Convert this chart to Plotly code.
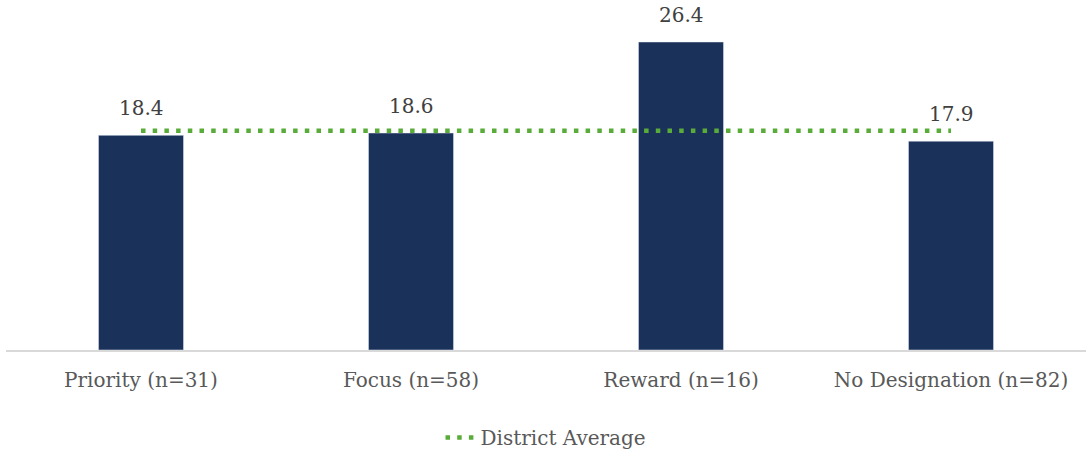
import plotly.graph_objects as go

categories = ["Priority (n=31)", "Focus (n=58)", "Reward (n=16)", "No Designation (n=82)"]
values = [18.4, 18.6, 26.4, 17.9]
district_average = 18.8

fig = go.Figure()
fig.add_trace(go.Bar(
    x=categories, y=values,
    marker=dict(color="#1a3159"),
    showlegend=False,
))
fig.add_trace(go.Scatter(
    x=categories, y=[district_average] * len(categories),
    mode="lines",
    line=dict(color="#5aac3a", width=4.5, dash="4.5px,7.2px"),
    name="District Average",
))

# value labels above each bar
for cat, v in zip(categories, values):
    fig.add_annotation(
        x=cat, y=v, text=f"{v:.1f}", showarrow=False,
        yanchor="middle", yshift=27,
        font=dict(family="DejaVu Serif", size=20, color="#404040"),
    )

fig.update_layout(
    width=1090, height=450,
    margin=dict(l=6, r=4, t=0, b=100, autoexpand=False),
    plot_bgcolor="white", paper_bgcolor="white",
    bargap=0.685,
    font=dict(family="DejaVu Serif", size=20, color="#595959"),
    xaxis=dict(showline=True, linecolor="#d9d9d9", linewidth=1.5, ticks="",
               ticklabelstandoff=11, automargin=False,
               tickfont=dict(size=20, color="#595959")),
    yaxis=dict(range=[0, 30], visible=False),
    legend=dict(orientation="h", x=0.5, xanchor="center", y=-0.25, yanchor="middle",
                font=dict(size=20, color="#595959")),
)
fig.write_html("out.html")
